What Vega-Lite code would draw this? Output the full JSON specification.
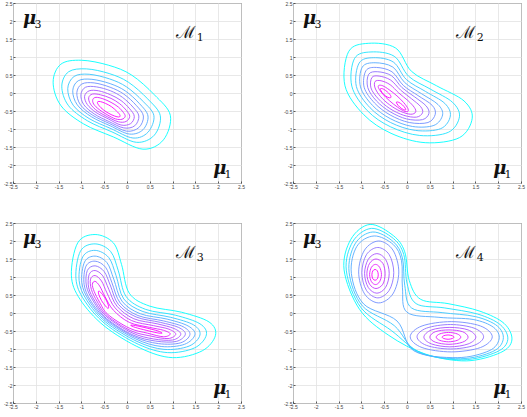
{
"$schema":"https://vega.github.io/schema/vega-lite/v6.json",
"background":"white",
"padding":{"left":2,"top":0,"right":2,"bottom":2},
"data":{"values":[
{"p":1,"c":1,"x":-1.62,"y":0.3},{"p":1,"c":1,"x":-1.45,"y":0.8},{"p":1,"c":1,"x":-1,"y":0.91},{"p":1,"c":1,"x":-0.4,"y":0.77},{"p":1,"c":1,"x":0.1,"y":0.5},{"p":1,"c":1,"x":0.6,"y":-0.05},{"p":1,"c":1,"x":0.95,"y":-0.62},{"p":1,"c":1,"x":0.8,"y":-1.3},{"p":1,"c":1,"x":0.35,"y":-1.56},{"p":1,"c":1,"x":-0.3,"y":-1.22},{"p":1,"c":1,"x":-0.95,"y":-0.86},{"p":1,"c":1,"x":-1.45,"y":-0.35},
{"p":1,"c":2,"x":-1.43,"y":0.19},{"p":1,"c":2,"x":-1.28,"y":0.59},{"p":1,"c":2,"x":-0.89,"y":0.67},{"p":1,"c":2,"x":-0.39,"y":0.54},{"p":1,"c":2,"x":0.03,"y":0.3},{"p":1,"c":2,"x":0.45,"y":-0.16},{"p":1,"c":2,"x":0.73,"y":-0.63},{"p":1,"c":2,"x":0.6,"y":-1.17},{"p":1,"c":2,"x":0.21,"y":-1.37},{"p":1,"c":2,"x":-0.33,"y":-1.08},{"p":1,"c":2,"x":-0.87,"y":-0.77},{"p":1,"c":2,"x":-1.29,"y":-0.34},
{"p":1,"c":3,"x":-1.3,"y":0.12},{"p":1,"c":3,"x":-1.16,"y":0.46},{"p":1,"c":3,"x":-0.83,"y":0.52},{"p":1,"c":3,"x":-0.38,"y":0.39},{"p":1,"c":3,"x":-0.01,"y":0.17},{"p":1,"c":3,"x":0.35,"y":-0.23},{"p":1,"c":3,"x":0.59,"y":-0.63},{"p":1,"c":3,"x":0.46,"y":-1.09},{"p":1,"c":3,"x":0.13,"y":-1.25},{"p":1,"c":3,"x":-0.35,"y":-0.99},{"p":1,"c":3,"x":-0.83,"y":-0.71},{"p":1,"c":3,"x":-1.18,"y":-0.34},
{"p":1,"c":4,"x":-1.19,"y":0.06},{"p":1,"c":4,"x":-1.07,"y":0.34},{"p":1,"c":4,"x":-0.77,"y":0.38},{"p":1,"c":4,"x":-0.37,"y":0.26},{"p":1,"c":4,"x":-0.04,"y":0.06},{"p":1,"c":4,"x":0.27,"y":-0.29},{"p":1,"c":4,"x":0.46,"y":-0.64},{"p":1,"c":4,"x":0.35,"y":-1.02},{"p":1,"c":4,"x":0.05,"y":-1.14},{"p":1,"c":4,"x":-0.37,"y":-0.91},{"p":1,"c":4,"x":-0.78,"y":-0.66},{"p":1,"c":4,"x":-1.09,"y":-0.33},
{"p":1,"c":5,"x":-1.1,"y":0.01},{"p":1,"c":5,"x":-0.99,"y":0.25},{"p":1,"c":5,"x":-0.72,"y":0.28},{"p":1,"c":5,"x":-0.37,"y":0.16},{"p":1,"c":5,"x":-0.07,"y":-0.03},{"p":1,"c":5,"x":0.2,"y":-0.34},{"p":1,"c":5,"x":0.36,"y":-0.64},{"p":1,"c":5,"x":0.26,"y":-0.96},{"p":1,"c":5,"x":-0.01,"y":-1.06},{"p":1,"c":5,"x":-0.38,"y":-0.85},{"p":1,"c":5,"x":-0.75,"y":-0.62},{"p":1,"c":5,"x":-1.02,"y":-0.33},
{"p":1,"c":6,"x":-1.01,"y":-0.04},{"p":1,"c":6,"x":-0.91,"y":0.16},{"p":1,"c":6,"x":-0.67,"y":0.17},{"p":1,"c":6,"x":-0.36,"y":0.06},{"p":1,"c":6,"x":-0.1,"y":-0.12},{"p":1,"c":6,"x":0.13,"y":-0.39},{"p":1,"c":6,"x":0.26,"y":-0.64},{"p":1,"c":6,"x":0.17,"y":-0.91},{"p":1,"c":6,"x":-0.07,"y":-0.97},{"p":1,"c":6,"x":-0.4,"y":-0.79},{"p":1,"c":6,"x":-0.72,"y":-0.58},{"p":1,"c":6,"x":-0.95,"y":-0.32},
{"p":1,"c":7,"x":-0.93,"y":-0.09},{"p":1,"c":7,"x":-0.83,"y":0.06},{"p":1,"c":7,"x":-0.62,"y":0.06},{"p":1,"c":7,"x":-0.36,"y":-0.05},{"p":1,"c":7,"x":-0.13,"y":-0.21},{"p":1,"c":7,"x":0.06,"y":-0.44},{"p":1,"c":7,"x":0.16,"y":-0.65},{"p":1,"c":7,"x":0.08,"y":-0.85},{"p":1,"c":7,"x":-0.13,"y":-0.89},{"p":1,"c":7,"x":-0.41,"y":-0.72},{"p":1,"c":7,"x":-0.68,"y":-0.54},{"p":1,"c":7,"x":-0.87,"y":-0.32},
{"p":1,"c":8,"x":-0.84,"y":-0.13},{"p":1,"c":8,"x":-0.76,"y":-0.03},{"p":1,"c":8,"x":-0.58,"y":-0.05},{"p":1,"c":8,"x":-0.35,"y":-0.15},{"p":1,"c":8,"x":-0.16,"y":-0.3},{"p":1,"c":8,"x":-0.01,"y":-0.49},{"p":1,"c":8,"x":0.06,"y":-0.65},{"p":1,"c":8,"x":-0.02,"y":-0.79},{"p":1,"c":8,"x":-0.19,"y":-0.8},{"p":1,"c":8,"x":-0.43,"y":-0.66},{"p":1,"c":8,"x":-0.65,"y":-0.5},{"p":1,"c":8,"x":-0.8,"y":-0.31},
{"p":1,"c":9,"x":-0.75,"y":-0.18},{"p":1,"c":9,"x":-0.68,"y":-0.12},{"p":1,"c":9,"x":-0.53,"y":-0.16},{"p":1,"c":9,"x":-0.35,"y":-0.26},{"p":1,"c":9,"x":-0.19,"y":-0.39},{"p":1,"c":9,"x":-0.08,"y":-0.54},{"p":1,"c":9,"x":-0.04,"y":-0.65},{"p":1,"c":9,"x":-0.11,"y":-0.73},{"p":1,"c":9,"x":-0.25,"y":-0.72},{"p":1,"c":9,"x":-0.44,"y":-0.6},{"p":1,"c":9,"x":-0.61,"y":-0.46},{"p":1,"c":9,"x":-0.73,"y":-0.31},
{"p":1,"c":10,"x":-0.64,"y":-0.24},{"p":1,"c":10,"x":-0.58,"y":-0.24},{"p":1,"c":10,"x":-0.47,"y":-0.29},{"p":1,"c":10,"x":-0.34,"y":-0.38},{"p":1,"c":10,"x":-0.23,"y":-0.5},{"p":1,"c":10,"x":-0.16,"y":-0.6},{"p":1,"c":10,"x":-0.16,"y":-0.66},{"p":1,"c":10,"x":-0.22,"y":-0.66},{"p":1,"c":10,"x":-0.33,"y":-0.61},{"p":1,"c":10,"x":-0.46,"y":-0.52},{"p":1,"c":10,"x":-0.57,"y":-0.41},{"p":1,"c":10,"x":-0.64,"y":-0.3},
{"p":2,"c":1,"x":-1.28,"y":1.15},{"p":2,"c":1,"x":-0.85,"y":1.38},{"p":2,"c":1,"x":-0.25,"y":1.25},{"p":2,"c":1,"x":0.1,"y":0.6},{"p":2,"c":1,"x":0.65,"y":0.2},{"p":2,"c":1,"x":1.25,"y":-0.22},{"p":2,"c":1,"x":1.43,"y":-0.7},{"p":2,"c":1,"x":1.15,"y":-1.24},{"p":2,"c":1,"x":0.4,"y":-1.38},{"p":2,"c":1,"x":-0.35,"y":-1.12},{"p":2,"c":1,"x":-0.95,"y":-0.6},{"p":2,"c":1,"x":-1.36,"y":0.2},
{"p":2,"c":2,"x":-1.15,"y":0.96},{"p":2,"c":2,"x":-0.79,"y":1.14},{"p":2,"c":2,"x":-0.28,"y":1.02},{"p":2,"c":2,"x":0.04,"y":0.46},{"p":2,"c":2,"x":0.51,"y":0.11},{"p":2,"c":2,"x":1,"y":-0.26},{"p":2,"c":2,"x":1.15,"y":-0.66},{"p":2,"c":2,"x":0.91,"y":-1.09},{"p":2,"c":2,"x":0.28,"y":-1.18},{"p":2,"c":2,"x":-0.36,"y":-0.94},{"p":2,"c":2,"x":-0.87,"y":-0.49},{"p":2,"c":2,"x":-1.21,"y":0.19},
{"p":2,"c":3,"x":-1.05,"y":0.83},{"p":2,"c":3,"x":-0.74,"y":0.98},{"p":2,"c":3,"x":-0.3,"y":0.86},{"p":2,"c":3,"x":-0.01,"y":0.37},{"p":2,"c":3,"x":0.41,"y":0.04},{"p":2,"c":3,"x":0.83,"y":-0.29},{"p":2,"c":3,"x":0.95,"y":-0.64},{"p":2,"c":3,"x":0.74,"y":-0.99},{"p":2,"c":3,"x":0.19,"y":-1.04},{"p":2,"c":3,"x":-0.36,"y":-0.82},{"p":2,"c":3,"x":-0.81,"y":-0.41},{"p":2,"c":3,"x":-1.11,"y":0.18},
{"p":2,"c":4,"x":-0.98,"y":0.72},{"p":2,"c":4,"x":-0.7,"y":0.84},{"p":2,"c":4,"x":-0.31,"y":0.72},{"p":2,"c":4,"x":-0.05,"y":0.29},{"p":2,"c":4,"x":0.32,"y":-0.02},{"p":2,"c":4,"x":0.68,"y":-0.32},{"p":2,"c":4,"x":0.78,"y":-0.61},{"p":2,"c":4,"x":0.59,"y":-0.9},{"p":2,"c":4,"x":0.12,"y":-0.93},{"p":2,"c":4,"x":-0.37,"y":-0.71},{"p":2,"c":4,"x":-0.76,"y":-0.34},{"p":2,"c":4,"x":-1.02,"y":0.17},
{"p":2,"c":5,"x":-0.9,"y":0.62},{"p":2,"c":5,"x":-0.67,"y":0.71},{"p":2,"c":5,"x":-0.33,"y":0.59},{"p":2,"c":5,"x":-0.08,"y":0.21},{"p":2,"c":5,"x":0.24,"y":-0.07},{"p":2,"c":5,"x":0.55,"y":-0.34},{"p":2,"c":5,"x":0.62,"y":-0.59},{"p":2,"c":5,"x":0.46,"y":-0.82},{"p":2,"c":5,"x":0.05,"y":-0.82},{"p":2,"c":5,"x":-0.37,"y":-0.61},{"p":2,"c":5,"x":-0.71,"y":-0.28},{"p":2,"c":5,"x":-0.94,"y":0.16},
{"p":2,"c":6,"x":-0.84,"y":0.52},{"p":2,"c":6,"x":-0.64,"y":0.59},{"p":2,"c":6,"x":-0.34,"y":0.48},{"p":2,"c":6,"x":-0.11,"y":0.15},{"p":2,"c":6,"x":0.17,"y":-0.11},{"p":2,"c":6,"x":0.42,"y":-0.36},{"p":2,"c":6,"x":0.48,"y":-0.57},{"p":2,"c":6,"x":0.34,"y":-0.74},{"p":2,"c":6,"x":-0.01,"y":-0.72},{"p":2,"c":6,"x":-0.37,"y":-0.52},{"p":2,"c":6,"x":-0.67,"y":-0.22},{"p":2,"c":6,"x":-0.86,"y":0.15},
{"p":2,"c":7,"x":-0.77,"y":0.43},{"p":2,"c":7,"x":-0.61,"y":0.47},{"p":2,"c":7,"x":-0.36,"y":0.36},{"p":2,"c":7,"x":-0.14,"y":0.08},{"p":2,"c":7,"x":0.1,"y":-0.16},{"p":2,"c":7,"x":0.3,"y":-0.38},{"p":2,"c":7,"x":0.34,"y":-0.55},{"p":2,"c":7,"x":0.21,"y":-0.67},{"p":2,"c":7,"x":-0.07,"y":-0.62},{"p":2,"c":7,"x":-0.38,"y":-0.43},{"p":2,"c":7,"x":-0.63,"y":-0.16},{"p":2,"c":7,"x":-0.79,"y":0.14},
{"p":2,"c":8,"x":-0.7,"y":0.32},{"p":2,"c":8,"x":-0.57,"y":0.34},{"p":2,"c":8,"x":-0.37,"y":0.23},{"p":2,"c":8,"x":-0.18,"y":0},{"p":2,"c":8,"x":0.02,"y":-0.21},{"p":2,"c":8,"x":0.16,"y":-0.4},{"p":2,"c":8,"x":0.19,"y":-0.53},{"p":2,"c":8,"x":0.08,"y":-0.59},{"p":2,"c":8,"x":-0.14,"y":-0.51},{"p":2,"c":8,"x":-0.38,"y":-0.33},{"p":2,"c":8,"x":-0.58,"y":-0.1},{"p":2,"c":8,"x":-0.7,"y":0.14},
{"p":2,"c":9,"x":-0.62,"y":0.21},{"p":2,"c":9,"x":-0.53,"y":0.2},{"p":2,"c":9,"x":-0.39,"y":0.09},{"p":2,"c":9,"x":-0.22,"y":-0.08},{"p":2,"c":9,"x":-0.07,"y":-0.27},{"p":2,"c":9,"x":0.02,"y":-0.43},{"p":2,"c":9,"x":0.02,"y":-0.51},{"p":2,"c":9,"x":-0.07,"y":-0.5},{"p":2,"c":9,"x":-0.21,"y":-0.39},{"p":2,"c":9,"x":-0.38,"y":-0.22},{"p":2,"c":9,"x":-0.53,"y":-0.03},{"p":2,"c":9,"x":-0.62,"y":0.13},
{"p":2,"c":10,"x":-0.36,"y":-0.13},{"p":2,"c":10,"x":-0.36,"y":-0.07},{"p":2,"c":10,"x":-0.43,"y":0.03},{"p":2,"c":10,"x":-0.52,"y":0.11},{"p":2,"c":10,"x":-0.58,"y":0.12},{"p":2,"c":10,"x":-0.57,"y":0.06},{"p":2,"c":10,"x":-0.51,"y":-0.04},{"p":2,"c":10,"x":-0.42,"y":-0.12},
{"p":2,"c":10.1,"x":-0.03,"y":-0.47},{"p":2,"c":10.1,"x":-0.04,"y":-0.42},{"p":2,"c":10.1,"x":-0.1,"y":-0.33},{"p":2,"c":10.1,"x":-0.18,"y":-0.26},{"p":2,"c":10.1,"x":-0.23,"y":-0.25},{"p":2,"c":10.1,"x":-0.22,"y":-0.3},{"p":2,"c":10.1,"x":-0.16,"y":-0.39},{"p":2,"c":10.1,"x":-0.08,"y":-0.46},
{"p":3,"c":1,"x":-0.7,"y":2.18},{"p":3,"c":1,"x":-0.3,"y":1.95},{"p":3,"c":1,"x":-0.12,"y":1.35},{"p":3,"c":1,"x":0.05,"y":0.55},{"p":3,"c":1,"x":0.5,"y":0.19},{"p":3,"c":1,"x":1.2,"y":0.02},{"p":3,"c":1,"x":1.8,"y":-0.25},{"p":3,"c":1,"x":1.94,"y":-0.62},{"p":3,"c":1,"x":1.65,"y":-1.05},{"p":3,"c":1,"x":1,"y":-1.24},{"p":3,"c":1,"x":0.3,"y":-0.98},{"p":3,"c":1,"x":-0.5,"y":-0.36},{"p":3,"c":1,"x":-1.03,"y":0.38},{"p":3,"c":1,"x":-1.22,"y":1.05},{"p":3,"c":1,"x":-1.08,"y":1.95},
{"p":3,"c":2,"x":-0.7,"y":1.92},{"p":3,"c":2,"x":-0.36,"y":1.71},{"p":3,"c":2,"x":-0.19,"y":1.17},{"p":3,"c":2,"x":-0.02,"y":0.46},{"p":3,"c":2,"x":0.41,"y":0.1},{"p":3,"c":2,"x":1.06,"y":-0.06},{"p":3,"c":2,"x":1.6,"y":-0.3},{"p":3,"c":2,"x":1.74,"y":-0.61},{"p":3,"c":2,"x":1.48,"y":-0.97},{"p":3,"c":2,"x":0.89,"y":-1.1},{"p":3,"c":2,"x":0.25,"y":-0.87},{"p":3,"c":2,"x":-0.48,"y":-0.3},{"p":3,"c":2,"x":-0.94,"y":0.36},{"p":3,"c":2,"x":-1.12,"y":0.96},{"p":3,"c":2,"x":-1.02,"y":1.72},
{"p":3,"c":3,"x":-0.7,"y":1.74},{"p":3,"c":3,"x":-0.4,"y":1.54},{"p":3,"c":3,"x":-0.24,"y":1.04},{"p":3,"c":3,"x":-0.07,"y":0.39},{"p":3,"c":3,"x":0.35,"y":0.04},{"p":3,"c":3,"x":0.96,"y":-0.12},{"p":3,"c":3,"x":1.46,"y":-0.33},{"p":3,"c":3,"x":1.6,"y":-0.61},{"p":3,"c":3,"x":1.36,"y":-0.92},{"p":3,"c":3,"x":0.81,"y":-1.01},{"p":3,"c":3,"x":0.22,"y":-0.79},{"p":3,"c":3,"x":-0.47,"y":-0.25},{"p":3,"c":3,"x":-0.88,"y":0.35},{"p":3,"c":3,"x":-1.05,"y":0.9},{"p":3,"c":3,"x":-0.97,"y":1.56},
{"p":3,"c":4,"x":-0.7,"y":1.58},{"p":3,"c":4,"x":-0.44,"y":1.4},{"p":3,"c":4,"x":-0.29,"y":0.94},{"p":3,"c":4,"x":-0.11,"y":0.33},{"p":3,"c":4,"x":0.29,"y":-0.02},{"p":3,"c":4,"x":0.88,"y":-0.17},{"p":3,"c":4,"x":1.34,"y":-0.36},{"p":3,"c":4,"x":1.49,"y":-0.6},{"p":3,"c":4,"x":1.26,"y":-0.87},{"p":3,"c":4,"x":0.75,"y":-0.93},{"p":3,"c":4,"x":0.19,"y":-0.72},{"p":3,"c":4,"x":-0.46,"y":-0.21},{"p":3,"c":4,"x":-0.83,"y":0.34},{"p":3,"c":4,"x":-0.99,"y":0.84},{"p":3,"c":4,"x":-0.93,"y":1.42},
{"p":3,"c":5,"x":-0.7,"y":1.44},{"p":3,"c":5,"x":-0.47,"y":1.27},{"p":3,"c":5,"x":-0.33,"y":0.84},{"p":3,"c":5,"x":-0.15,"y":0.28},{"p":3,"c":5,"x":0.24,"y":-0.07},{"p":3,"c":5,"x":0.8,"y":-0.22},{"p":3,"c":5,"x":1.23,"y":-0.38},{"p":3,"c":5,"x":1.38,"y":-0.6},{"p":3,"c":5,"x":1.17,"y":-0.83},{"p":3,"c":5,"x":0.69,"y":-0.85},{"p":3,"c":5,"x":0.16,"y":-0.66},{"p":3,"c":5,"x":-0.45,"y":-0.18},{"p":3,"c":5,"x":-0.79,"y":0.33},{"p":3,"c":5,"x":-0.94,"y":0.79},{"p":3,"c":5,"x":-0.9,"y":1.3},
{"p":3,"c":6,"x":-0.7,"y":1.31},{"p":3,"c":6,"x":-0.5,"y":1.15},{"p":3,"c":6,"x":-0.36,"y":0.75},{"p":3,"c":6,"x":-0.19,"y":0.24},{"p":3,"c":6,"x":0.2,"y":-0.11},{"p":3,"c":6,"x":0.73,"y":-0.26},{"p":3,"c":6,"x":1.13,"y":-0.4},{"p":3,"c":6,"x":1.28,"y":-0.59},{"p":3,"c":6,"x":1.08,"y":-0.79},{"p":3,"c":6,"x":0.63,"y":-0.78},{"p":3,"c":6,"x":0.13,"y":-0.61},{"p":3,"c":6,"x":-0.45,"y":-0.15},{"p":3,"c":6,"x":-0.74,"y":0.33},{"p":3,"c":6,"x":-0.89,"y":0.75},{"p":3,"c":6,"x":-0.87,"y":1.18},
{"p":3,"c":7,"x":-0.7,"y":1.18},{"p":3,"c":7,"x":-0.53,"y":1.03},{"p":3,"c":7,"x":-0.4,"y":0.66},{"p":3,"c":7,"x":-0.22,"y":0.19},{"p":3,"c":7,"x":0.15,"y":-0.16},{"p":3,"c":7,"x":0.66,"y":-0.3},{"p":3,"c":7,"x":1.03,"y":-0.43},{"p":3,"c":7,"x":1.18,"y":-0.59},{"p":3,"c":7,"x":1,"y":-0.75},{"p":3,"c":7,"x":0.58,"y":-0.72},{"p":3,"c":7,"x":0.11,"y":-0.55},{"p":3,"c":7,"x":-0.44,"y":-0.11},{"p":3,"c":7,"x":-0.7,"y":0.32},{"p":3,"c":7,"x":-0.84,"y":0.7},{"p":3,"c":7,"x":-0.83,"y":1.07},
{"p":3,"c":8,"x":-0.7,"y":1.04},{"p":3,"c":8,"x":-0.56,"y":0.89},{"p":3,"c":8,"x":-0.44,"y":0.56},{"p":3,"c":8,"x":-0.26,"y":0.14},{"p":3,"c":8,"x":0.1,"y":-0.21},{"p":3,"c":8,"x":0.58,"y":-0.35},{"p":3,"c":8,"x":0.92,"y":-0.45},{"p":3,"c":8,"x":1.07,"y":-0.59},{"p":3,"c":8,"x":0.9,"y":-0.71},{"p":3,"c":8,"x":0.52,"y":-0.64},{"p":3,"c":8,"x":0.08,"y":-0.49},{"p":3,"c":8,"x":-0.43,"y":-0.08},{"p":3,"c":8,"x":-0.65,"y":0.31},{"p":3,"c":8,"x":-0.78,"y":0.65},{"p":3,"c":8,"x":-0.8,"y":0.94},
{"p":3,"c":9,"x":-0.7,"y":0.88},{"p":3,"c":9,"x":-0.6,"y":0.75},{"p":3,"c":9,"x":-0.48,"y":0.45},{"p":3,"c":9,"x":-0.3,"y":0.08},{"p":3,"c":9,"x":0.05,"y":-0.26},{"p":3,"c":9,"x":0.5,"y":-0.4},{"p":3,"c":9,"x":0.8,"y":-0.48},{"p":3,"c":9,"x":0.95,"y":-0.58},{"p":3,"c":9,"x":0.8,"y":-0.66},{"p":3,"c":9,"x":0.45,"y":-0.56},{"p":3,"c":9,"x":0.05,"y":-0.42},{"p":3,"c":9,"x":-0.42,"y":-0.04},{"p":3,"c":9,"x":-0.6,"y":0.3},{"p":3,"c":9,"x":-0.72,"y":0.6},{"p":3,"c":9,"x":-0.76,"y":0.8},
{"p":3,"c":10,"x":-0.41,"y":0.13},{"p":3,"c":10,"x":-0.41,"y":0.22},{"p":3,"c":10,"x":-0.47,"y":0.39},{"p":3,"c":10,"x":-0.56,"y":0.55},{"p":3,"c":10,"x":-0.62,"y":0.61},{"p":3,"c":10,"x":-0.62,"y":0.52},{"p":3,"c":10,"x":-0.56,"y":0.35},{"p":3,"c":10,"x":-0.47,"y":0.19},
{"p":3,"c":10.1,"x":0.77,"y":-0.56},{"p":3,"c":10.1,"x":0.68,"y":-0.5},{"p":3,"c":10.1,"x":0.44,"y":-0.42},{"p":3,"c":10.1,"x":0.19,"y":-0.35},{"p":3,"c":10.1,"x":0.08,"y":-0.34},{"p":3,"c":10.1,"x":0.18,"y":-0.4},{"p":3,"c":10.1,"x":0.42,"y":-0.48},{"p":3,"c":10.1,"x":0.66,"y":-0.55},
{"p":4,"c":1,"x":-0.81,"y":2.46},{"p":4,"c":1,"x":-0.3,"y":2.15},{"p":4,"c":1,"x":-0.05,"y":1.7},{"p":4,"c":1,"x":0.05,"y":0.9},{"p":4,"c":1,"x":0.3,"y":0.38},{"p":4,"c":1,"x":0.9,"y":0.26},{"p":4,"c":1,"x":1.6,"y":0.05},{"p":4,"c":1,"x":2.13,"y":-0.29},{"p":4,"c":1,"x":2.3,"y":-0.75},{"p":4,"c":1,"x":2.05,"y":-1.1},{"p":4,"c":1,"x":1.3,"y":-1.33},{"p":4,"c":1,"x":0.4,"y":-1.14},{"p":4,"c":1,"x":-0.4,"y":-0.62},{"p":4,"c":1,"x":-1.04,"y":0.1},{"p":4,"c":1,"x":-1.38,"y":1.2},{"p":4,"c":1,"x":-1.23,"y":2.05},
{"p":4,"c":2,"x":-0.78,"y":2.35},{"p":4,"c":2,"x":-0.3,"y":2.07},{"p":4,"c":2,"x":-0.07,"y":1.62},{"p":4,"c":2,"x":0,"y":0.83},{"p":4,"c":2,"x":0.2,"y":0.26},{"p":4,"c":2,"x":0.83,"y":0.14},{"p":4,"c":2,"x":1.55,"y":-0.03},{"p":4,"c":2,"x":2.05,"y":-0.33},{"p":4,"c":2,"x":2.21,"y":-0.74},{"p":4,"c":2,"x":1.97,"y":-1.08},{"p":4,"c":2,"x":1.23,"y":-1.3},{"p":4,"c":2,"x":0.32,"y":-1.11},{"p":4,"c":2,"x":-0.34,"y":-0.49},{"p":4,"c":2,"x":-1.01,"y":0.15},{"p":4,"c":2,"x":-1.33,"y":1.17},{"p":4,"c":2,"x":-1.19,"y":1.98},
{"p":4,"c":3,"x":-0.75,"y":2.25},{"p":4,"c":3,"x":-0.3,"y":1.98},{"p":4,"c":3,"x":-0.1,"y":1.53},{"p":4,"c":3,"x":-0.05,"y":0.77},{"p":4,"c":3,"x":0.1,"y":0.14},{"p":4,"c":3,"x":0.77,"y":0.01},{"p":4,"c":3,"x":1.5,"y":-0.1},{"p":4,"c":3,"x":1.98,"y":-0.36},{"p":4,"c":3,"x":2.11,"y":-0.73},{"p":4,"c":3,"x":1.88,"y":-1.07},{"p":4,"c":3,"x":1.17,"y":-1.27},{"p":4,"c":3,"x":0.23,"y":-1.08},{"p":4,"c":3,"x":-0.28,"y":-0.35},{"p":4,"c":3,"x":-0.98,"y":0.2},{"p":4,"c":3,"x":-1.27,"y":1.13},{"p":4,"c":3,"x":-1.14,"y":1.92},
{"p":4,"c":4,"x":-0.72,"y":2.14},{"p":4,"c":4,"x":-0.3,"y":1.9},{"p":4,"c":4,"x":-0.12,"y":1.45},{"p":4,"c":4,"x":-0.1,"y":0.7},{"p":4,"c":4,"x":0,"y":0.02},{"p":4,"c":4,"x":0.7,"y":-0.12},{"p":4,"c":4,"x":1.45,"y":-0.18},{"p":4,"c":4,"x":1.9,"y":-0.4},{"p":4,"c":4,"x":2.02,"y":-0.72},{"p":4,"c":4,"x":1.8,"y":-1.05},{"p":4,"c":4,"x":1.1,"y":-1.24},{"p":4,"c":4,"x":0.15,"y":-1.05},{"p":4,"c":4,"x":-0.22,"y":-0.22},{"p":4,"c":4,"x":-0.95,"y":0.25},{"p":4,"c":4,"x":-1.22,"y":1.1},{"p":4,"c":4,"x":-1.1,"y":1.85},
{"p":4,"c":5,"x":-0.18,"y":1.14},{"p":4,"c":5,"x":-0.31,"y":1.75},{"p":4,"c":5,"x":-0.62,"y":2},{"p":4,"c":5,"x":-0.93,"y":1.75},{"p":4,"c":5,"x":-1.06,"y":1.14},{"p":4,"c":5,"x":-0.93,"y":0.53},{"p":4,"c":5,"x":-0.62,"y":0.28},{"p":4,"c":5,"x":-0.31,"y":0.53},
{"p":4,"c":6,"x":-0.29,"y":1.12},{"p":4,"c":6,"x":-0.39,"y":1.62},{"p":4,"c":6,"x":-0.64,"y":1.82},{"p":4,"c":6,"x":-0.89,"y":1.62},{"p":4,"c":6,"x":-0.99,"y":1.12},{"p":4,"c":6,"x":-0.89,"y":0.63},{"p":4,"c":6,"x":-0.64,"y":0.42},{"p":4,"c":6,"x":-0.39,"y":0.63},
{"p":4,"c":7,"x":-0.39,"y":1.1},{"p":4,"c":7,"x":-0.47,"y":1.49},{"p":4,"c":7,"x":-0.66,"y":1.65},{"p":4,"c":7,"x":-0.85,"y":1.49},{"p":4,"c":7,"x":-0.93,"y":1.1},{"p":4,"c":7,"x":-0.85,"y":0.71},{"p":4,"c":7,"x":-0.66,"y":0.55},{"p":4,"c":7,"x":-0.47,"y":0.71},
{"p":4,"c":8,"x":-0.48,"y":1.09},{"p":4,"c":8,"x":-0.53,"y":1.38},{"p":4,"c":8,"x":-0.68,"y":1.5},{"p":4,"c":8,"x":-0.82,"y":1.38},{"p":4,"c":8,"x":-0.88,"y":1.09},{"p":4,"c":8,"x":-0.82,"y":0.8},{"p":4,"c":8,"x":-0.68,"y":0.68},{"p":4,"c":8,"x":-0.53,"y":0.8},
{"p":4,"c":9,"x":-0.56,"y":1.07},{"p":4,"c":9,"x":-0.6,"y":1.27},{"p":4,"c":9,"x":-0.69,"y":1.35},{"p":4,"c":9,"x":-0.78,"y":1.27},{"p":4,"c":9,"x":-0.82,"y":1.07},{"p":4,"c":9,"x":-0.78,"y":0.87},{"p":4,"c":9,"x":-0.69,"y":0.79},{"p":4,"c":9,"x":-0.6,"y":0.87},
{"p":4,"c":10,"x":-0.63,"y":1.06},{"p":4,"c":10,"x":-0.65,"y":1.17},{"p":4,"c":10,"x":-0.7,"y":1.21},{"p":4,"c":10,"x":-0.75,"y":1.17},{"p":4,"c":10,"x":-0.77,"y":1.06},{"p":4,"c":10,"x":-0.75,"y":0.95},{"p":4,"c":10,"x":-0.7,"y":0.91},{"p":4,"c":10,"x":-0.65,"y":0.95},
{"p":4,"c":5.1,"x":1.87,"y":-0.66},{"p":4,"c":5.1,"x":1.61,"y":-0.36},{"p":4,"c":5.1,"x":0.97,"y":-0.24},{"p":4,"c":5.1,"x":0.33,"y":-0.36},{"p":4,"c":5.1,"x":0.07,"y":-0.66},{"p":4,"c":5.1,"x":0.33,"y":-0.96},{"p":4,"c":5.1,"x":0.97,"y":-1.08},{"p":4,"c":5.1,"x":1.61,"y":-0.96},
{"p":4,"c":6.1,"x":1.68,"y":-0.66},{"p":4,"c":6.1,"x":1.47,"y":-0.42},{"p":4,"c":6.1,"x":0.95,"y":-0.32},{"p":4,"c":6.1,"x":0.43,"y":-0.42},{"p":4,"c":6.1,"x":0.22,"y":-0.66},{"p":4,"c":6.1,"x":0.43,"y":-0.9},{"p":4,"c":6.1,"x":0.95,"y":-1},{"p":4,"c":6.1,"x":1.47,"y":-0.9},
{"p":4,"c":7.1,"x":1.51,"y":-0.67},{"p":4,"c":7.1,"x":1.34,"y":-0.47},{"p":4,"c":7.1,"x":0.94,"y":-0.4},{"p":4,"c":7.1,"x":0.54,"y":-0.47},{"p":4,"c":7.1,"x":0.37,"y":-0.67},{"p":4,"c":7.1,"x":0.54,"y":-0.86},{"p":4,"c":7.1,"x":0.94,"y":-0.94},{"p":4,"c":7.1,"x":1.34,"y":-0.86},
{"p":4,"c":8.1,"x":1.34,"y":-0.67},{"p":4,"c":8.1,"x":1.22,"y":-0.52},{"p":4,"c":8.1,"x":0.92,"y":-0.47},{"p":4,"c":8.1,"x":0.62,"y":-0.52},{"p":4,"c":8.1,"x":0.5,"y":-0.67},{"p":4,"c":8.1,"x":0.62,"y":-0.81},{"p":4,"c":8.1,"x":0.92,"y":-0.87},{"p":4,"c":8.1,"x":1.22,"y":-0.81},
{"p":4,"c":9.1,"x":1.18,"y":-0.67},{"p":4,"c":9.1,"x":1.1,"y":-0.58},{"p":4,"c":9.1,"x":0.91,"y":-0.54},{"p":4,"c":9.1,"x":0.72,"y":-0.58},{"p":4,"c":9.1,"x":0.64,"y":-0.67},{"p":4,"c":9.1,"x":0.72,"y":-0.76},{"p":4,"c":9.1,"x":0.91,"y":-0.8},{"p":4,"c":9.1,"x":1.1,"y":-0.76},
{"p":4,"c":10.1,"x":1.03,"y":-0.67},{"p":4,"c":10.1,"x":0.99,"y":-0.63},{"p":4,"c":10.1,"x":0.9,"y":-0.61},{"p":4,"c":10.1,"x":0.81,"y":-0.63},{"p":4,"c":10.1,"x":0.77,"y":-0.67},{"p":4,"c":10.1,"x":0.81,"y":-0.71},{"p":4,"c":10.1,"x":0.9,"y":-0.73},{"p":4,"c":10.1,"x":0.99,"y":-0.71},
{"p":1,"k":"u","t":"μ","x":-2.28,"y":1.92},{"p":1,"k":"s","t":"3","x":-2.03,"y":1.81},{"p":1,"k":"u","t":"μ","x":1.89,"y":-2.25},{"p":1,"k":"s","t":"1","x":2.14,"y":-2.36},{"p":1,"k":"m","t":"ℳ","x":1.08,"y":1.53},{"p":1,"k":"s","t":"1","x":1.53,"y":1.44},
{"p":2,"k":"u","t":"μ","x":-2.28,"y":1.92},{"p":2,"k":"s","t":"3","x":-2.03,"y":1.81},{"p":2,"k":"u","t":"μ","x":1.89,"y":-2.25},{"p":2,"k":"s","t":"1","x":2.14,"y":-2.36},{"p":2,"k":"m","t":"ℳ","x":1.08,"y":1.53},{"p":2,"k":"s","t":"2","x":1.53,"y":1.44},
{"p":3,"k":"u","t":"μ","x":-2.28,"y":1.92},{"p":3,"k":"s","t":"3","x":-2.03,"y":1.81},{"p":3,"k":"u","t":"μ","x":1.89,"y":-2.25},{"p":3,"k":"s","t":"1","x":2.14,"y":-2.36},{"p":3,"k":"m","t":"ℳ","x":1.08,"y":1.53},{"p":3,"k":"s","t":"3","x":1.53,"y":1.44},
{"p":4,"k":"u","t":"μ","x":-2.28,"y":1.92},{"p":4,"k":"s","t":"3","x":-2.03,"y":1.81},{"p":4,"k":"u","t":"μ","x":1.89,"y":-2.25},{"p":4,"k":"s","t":"1","x":2.14,"y":-2.36},{"p":4,"k":"m","t":"ℳ","x":1.08,"y":1.53},{"p":4,"k":"s","t":"4","x":1.53,"y":1.44}
]},
"spacing":30,
"vconcat":[
{"hconcat":[
{"width":228,"height":180,"transform":[{"filter":"datum.p == 1"}],"layer":[
{"transform":[{"filter":"datum.c > 0"}],"mark":{"type":"line","interpolate":"cardinal-closed","strokeWidth":0.9},"encoding":{"x":{"field":"x","type":"quantitative","scale":{"domain":[-2.5,2.5]},"axis":{"title":null,"values":[-2.5,-2,-1.5,-1,-0.5,0,0.5,1,1.5,2,2.5],"tickCount":11,"labelExpr":"datum.value + ''"}},"y":{"field":"y","type":"quantitative","scale":{"domain":[-2.5,2.5]},"axis":{"title":null,"values":[-2.5,-2,-1.5,-1,-0.5,0,0.5,1,1.5,2,2.5],"tickCount":11,"labelExpr":"datum.value + ''"}},"detail":{"field":"c","type":"nominal"},"color":{"field":"c","type":"quantitative","scale":{"domain":[1,10],"range":["#00ffff","#ff00ff"],"interpolate":"rgb","clamp":true},"legend":null},"order":{"value":null}}},
{"transform":[{"filter":"datum.k == 'u'"}],"mark":{"type":"text","font":"DejaVu Serif","fontStyle":"italic","fontWeight":"bold","fontSize":18,"align":"left","baseline":"alphabetic","color":"#111"},"encoding":{"x":{"field":"x","type":"quantitative"},"y":{"field":"y","type":"quantitative"},"text":{"field":"t"}}},
{"transform":[{"filter":"datum.k == 's'"}],"mark":{"type":"text","font":"DejaVu Serif","fontSize":11,"align":"left","baseline":"alphabetic","color":"#111"},"encoding":{"x":{"field":"x","type":"quantitative"},"y":{"field":"y","type":"quantitative"},"text":{"field":"t"}}},
{"transform":[{"filter":"datum.k == 'm'"}],"mark":{"type":"text","font":"DejaVu Serif","fontSize":17,"align":"left","baseline":"alphabetic","color":"#111"},"encoding":{"x":{"field":"x","type":"quantitative"},"y":{"field":"y","type":"quantitative"},"text":{"field":"t"}}}
]},
{"width":228,"height":180,"transform":[{"filter":"datum.p == 2"}],"layer":[
{"transform":[{"filter":"datum.c > 0"}],"mark":{"type":"line","interpolate":"cardinal-closed","strokeWidth":0.9},"encoding":{"x":{"field":"x","type":"quantitative","scale":{"domain":[-2.5,2.5]},"axis":{"title":null,"values":[-2.5,-2,-1.5,-1,-0.5,0,0.5,1,1.5,2,2.5],"tickCount":11,"labelExpr":"datum.value + ''"}},"y":{"field":"y","type":"quantitative","scale":{"domain":[-2.5,2.5]},"axis":{"title":null,"values":[-2.5,-2,-1.5,-1,-0.5,0,0.5,1,1.5,2,2.5],"tickCount":11,"labelExpr":"datum.value + ''"}},"detail":{"field":"c","type":"nominal"},"color":{"field":"c","type":"quantitative","scale":{"domain":[1,10],"range":["#00ffff","#ff00ff"],"interpolate":"rgb","clamp":true},"legend":null},"order":{"value":null}}},
{"transform":[{"filter":"datum.k == 'u'"}],"mark":{"type":"text","font":"DejaVu Serif","fontStyle":"italic","fontWeight":"bold","fontSize":18,"align":"left","baseline":"alphabetic","color":"#111"},"encoding":{"x":{"field":"x","type":"quantitative"},"y":{"field":"y","type":"quantitative"},"text":{"field":"t"}}},
{"transform":[{"filter":"datum.k == 's'"}],"mark":{"type":"text","font":"DejaVu Serif","fontSize":11,"align":"left","baseline":"alphabetic","color":"#111"},"encoding":{"x":{"field":"x","type":"quantitative"},"y":{"field":"y","type":"quantitative"},"text":{"field":"t"}}},
{"transform":[{"filter":"datum.k == 'm'"}],"mark":{"type":"text","font":"DejaVu Serif","fontSize":17,"align":"left","baseline":"alphabetic","color":"#111"},"encoding":{"x":{"field":"x","type":"quantitative"},"y":{"field":"y","type":"quantitative"},"text":{"field":"t"}}}
]}
],"spacing":52,"bounds":"flush"},
{"hconcat":[
{"width":228,"height":180,"transform":[{"filter":"datum.p == 3"}],"layer":[
{"transform":[{"filter":"datum.c > 0"}],"mark":{"type":"line","interpolate":"cardinal-closed","strokeWidth":0.9},"encoding":{"x":{"field":"x","type":"quantitative","scale":{"domain":[-2.5,2.5]},"axis":{"title":null,"values":[-2.5,-2,-1.5,-1,-0.5,0,0.5,1,1.5,2,2.5],"tickCount":11,"labelExpr":"datum.value + ''"}},"y":{"field":"y","type":"quantitative","scale":{"domain":[-2.5,2.5]},"axis":{"title":null,"values":[-2.5,-2,-1.5,-1,-0.5,0,0.5,1,1.5,2,2.5],"tickCount":11,"labelExpr":"datum.value + ''"}},"detail":{"field":"c","type":"nominal"},"color":{"field":"c","type":"quantitative","scale":{"domain":[1,10],"range":["#00ffff","#ff00ff"],"interpolate":"rgb","clamp":true},"legend":null},"order":{"value":null}}},
{"transform":[{"filter":"datum.k == 'u'"}],"mark":{"type":"text","font":"DejaVu Serif","fontStyle":"italic","fontWeight":"bold","fontSize":18,"align":"left","baseline":"alphabetic","color":"#111"},"encoding":{"x":{"field":"x","type":"quantitative"},"y":{"field":"y","type":"quantitative"},"text":{"field":"t"}}},
{"transform":[{"filter":"datum.k == 's'"}],"mark":{"type":"text","font":"DejaVu Serif","fontSize":11,"align":"left","baseline":"alphabetic","color":"#111"},"encoding":{"x":{"field":"x","type":"quantitative"},"y":{"field":"y","type":"quantitative"},"text":{"field":"t"}}},
{"transform":[{"filter":"datum.k == 'm'"}],"mark":{"type":"text","font":"DejaVu Serif","fontSize":17,"align":"left","baseline":"alphabetic","color":"#111"},"encoding":{"x":{"field":"x","type":"quantitative"},"y":{"field":"y","type":"quantitative"},"text":{"field":"t"}}}
]},
{"width":228,"height":180,"transform":[{"filter":"datum.p == 4"}],"layer":[
{"transform":[{"filter":"datum.c > 0"}],"mark":{"type":"line","interpolate":"cardinal-closed","strokeWidth":0.9},"encoding":{"x":{"field":"x","type":"quantitative","scale":{"domain":[-2.5,2.5]},"axis":{"title":null,"values":[-2.5,-2,-1.5,-1,-0.5,0,0.5,1,1.5,2,2.5],"tickCount":11,"labelExpr":"datum.value + ''"}},"y":{"field":"y","type":"quantitative","scale":{"domain":[-2.5,2.5]},"axis":{"title":null,"values":[-2.5,-2,-1.5,-1,-0.5,0,0.5,1,1.5,2,2.5],"tickCount":11,"labelExpr":"datum.value + ''"}},"detail":{"field":"c","type":"nominal"},"color":{"field":"c","type":"quantitative","scale":{"domain":[1,10],"range":["#00ffff","#ff00ff"],"interpolate":"rgb","clamp":true},"legend":null},"order":{"value":null}}},
{"transform":[{"filter":"datum.k == 'u'"}],"mark":{"type":"text","font":"DejaVu Serif","fontStyle":"italic","fontWeight":"bold","fontSize":18,"align":"left","baseline":"alphabetic","color":"#111"},"encoding":{"x":{"field":"x","type":"quantitative"},"y":{"field":"y","type":"quantitative"},"text":{"field":"t"}}},
{"transform":[{"filter":"datum.k == 's'"}],"mark":{"type":"text","font":"DejaVu Serif","fontSize":11,"align":"left","baseline":"alphabetic","color":"#111"},"encoding":{"x":{"field":"x","type":"quantitative"},"y":{"field":"y","type":"quantitative"},"text":{"field":"t"}}},
{"transform":[{"filter":"datum.k == 'm'"}],"mark":{"type":"text","font":"DejaVu Serif","fontSize":17,"align":"left","baseline":"alphabetic","color":"#111"},"encoding":{"x":{"field":"x","type":"quantitative"},"y":{"field":"y","type":"quantitative"},"text":{"field":"t"}}}
]}
],"spacing":52,"bounds":"flush"}
],
"config":{
"view":{"stroke":"#333","strokeWidth":1},
"axis":{"grid":true,"gridColor":"#e2e2e2","gridWidth":0.8,"domain":false,"ticks":true,"tickSize":-2,"tickColor":"#333","tickWidth":0.8,"labelFontSize":5,"labelColor":"#444","labelFont":"Liberation Sans","labelPadding":3,"labelFlush":false,"labelOverlap":false}
}
}
